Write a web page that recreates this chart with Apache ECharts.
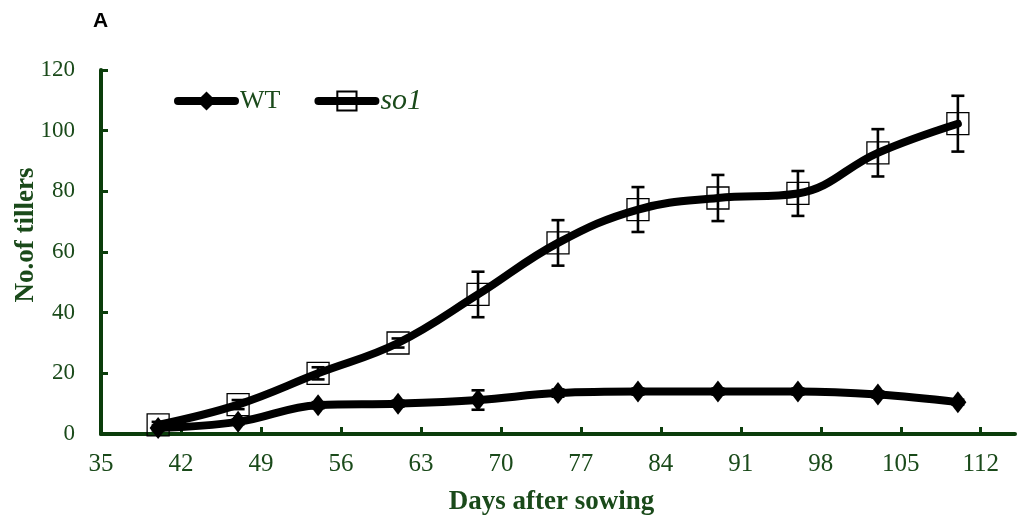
<!DOCTYPE html>
<html>
<head>
<meta charset="utf-8">
<script src="https://cdn.jsdelivr.net/npm/echarts@6/dist/echarts.min.js"></script>
<style>html,body{margin:0;padding:0;background:#fff;}#c{width:1017px;height:521px;}</style>
</head>
<body>
<div id="c"></div>
<script>
var days = [40, 47, 54, 61, 68, 75, 82, 89, 96, 103, 110];
var wtValues = [2, 4, 9.5, 10, 11.2, 13.5, 14, 14, 14, 13, 10.5];
var wtErrors = [0.8, 0.8, 1, 1, 3.2, 1.2, 1, 1, 1, 1, 0.8];
var so1Values = [3, 9.7, 20, 30, 46, 63, 74, 77.8, 79.3, 92.7, 102.3];
var so1Errors = [1, 1.5, 2, 1.5, 7.5, 7.5, 7.4, 7.6, 7.4, 7.8, 9.2];
var xTicks = [35, 42, 49, 56, 63, 70, 77, 84, 91, 98, 105, 112];
var yTicks = [0, 20, 40, 60, 80, 100, 120];

var GREEN_AXIS = '#0b3d0b';
var GREEN_TEXT = '#1a4a1a';

function pairs(xs, ys) { return xs.map(function (x, i) { return [x, ys[i]]; }); }
function errData(xs, ys, es) { return xs.map(function (x, i) { return [x, ys[i] - es[i], ys[i] + es[i]]; }); }

function errRender(params, api) {
  var top = api.coord([api.value(0), api.value(2)]);
  var bot = api.coord([api.value(0), api.value(1)]);
  var cap = 6.5;
  var st = { stroke: '#000', lineWidth: 2.6 };
  return {
    type: 'group',
    children: [
      { type: 'line', shape: { x1: top[0], y1: top[1], x2: bot[0], y2: bot[1] }, style: st },
      { type: 'line', shape: { x1: top[0] - cap, y1: top[1], x2: top[0] + cap, y2: top[1] }, style: st },
      { type: 'line', shape: { x1: bot[0] - cap, y1: bot[1], x2: bot[0] + cap, y2: bot[1] }, style: st }
    ]
  };
}

var chart = echarts.init(document.getElementById('c'), null, { renderer: 'canvas' });
chart.setOption({
  animation: false,
  backgroundColor: '#fff',
  title: {
    text: 'A', left: 88, top: 6,
    textStyle: { fontFamily: 'Liberation Sans', fontWeight: 'bold', fontSize: 21, color: '#000' }
  },
  legend: {
    left: 169, top: 81,
    itemWidth: 57, itemHeight: 24, itemGap: 34,
    lineStyle: { width: 8, cap: 'round', color: '#000' },
    data: [
      { name: 'WT', textStyle: { fontFamily: 'Liberation Serif', fontSize: 26, color: GREEN_TEXT } },
      { name: 'so1', textStyle: { fontFamily: 'Liberation Serif', fontStyle: 'italic', fontSize: 30, color: GREEN_TEXT } }
    ]
  },
  grid: { left: 101, right: 2, top: 70, bottom: 87, containLabel: false, outerBoundsMode: 'none' },
  xAxis: {
    type: 'value', min: 35, max: 115, interval: 7,
    name: 'Days after sowing', nameLocation: 'middle', nameGap: 55, nameMoveOverlap: false,
    nameTextStyle: { fontFamily: 'Liberation Serif', fontWeight: 'bold', fontSize: 27, color: GREEN_TEXT, padding: [0, 13, 0, 0] },
    axisLine: { show: true, lineStyle: { color: GREEN_AXIS, width: 4 } },
    axisTick: { show: true, inside: true, length: 7, lineStyle: { color: GREEN_AXIS, width: 3 }, customValues: xTicks },
    axisLabel: { margin: 18, fontFamily: 'Liberation Serif', fontSize: 25, color: GREEN_TEXT, customValues: xTicks },
    splitLine: { show: false }
  },
  yAxis: {
    type: 'value', min: 0, max: 120, interval: 20,
    name: 'No.of tillers', nameLocation: 'middle', nameGap: 61, nameMoveOverlap: false,
    nameTextStyle: { fontFamily: 'Liberation Serif', fontWeight: 'bold', fontSize: 27, color: GREEN_TEXT, padding: [0, 0, 0, 34] },
    axisLine: { show: true, lineStyle: { color: GREEN_AXIS, width: 4 } },
    axisTick: { show: true, inside: true, length: 7, lineStyle: { color: GREEN_AXIS, width: 3 }, customValues: yTicks },
    axisLabel: { margin: 26, fontFamily: 'Liberation Serif', fontSize: 23, color: GREEN_TEXT, customValues: yTicks },
    splitLine: { show: false }
  },
  series: [
    {
      name: 'so1', type: 'line', smooth: 0.4, data: pairs(days, so1Values),
      symbol: 'rect', symbolSize: 22, showAllSymbol: true,
      lineStyle: { color: '#000', width: 8, cap: 'round' },
      itemStyle: { color: 'rgba(255,255,255,0)', borderColor: '#000', borderWidth: 1.3 },
      z: 3
    },
    {
      name: 'WT', type: 'line', smooth: 0.4, data: pairs(days, wtValues),
      symbol: 'diamond', symbolSize: [17, 22],
      lineStyle: { color: '#000', width: 8, cap: 'round' },
      itemStyle: { color: '#000', borderColor: '#000', borderWidth: 0 },
      z: 4
    },
    {
      name: 'so1 error', type: 'custom', renderItem: errRender,
      data: errData(days, so1Values, so1Errors), encode: { x: 0, y: [1, 2] }, z: 5, silent: true
    },
    {
      name: 'WT error', type: 'custom', renderItem: errRender,
      data: errData(days, wtValues, wtErrors), encode: { x: 0, y: [1, 2] }, z: 5, silent: true
    }
  ]
});
</script>
</body>
</html>
